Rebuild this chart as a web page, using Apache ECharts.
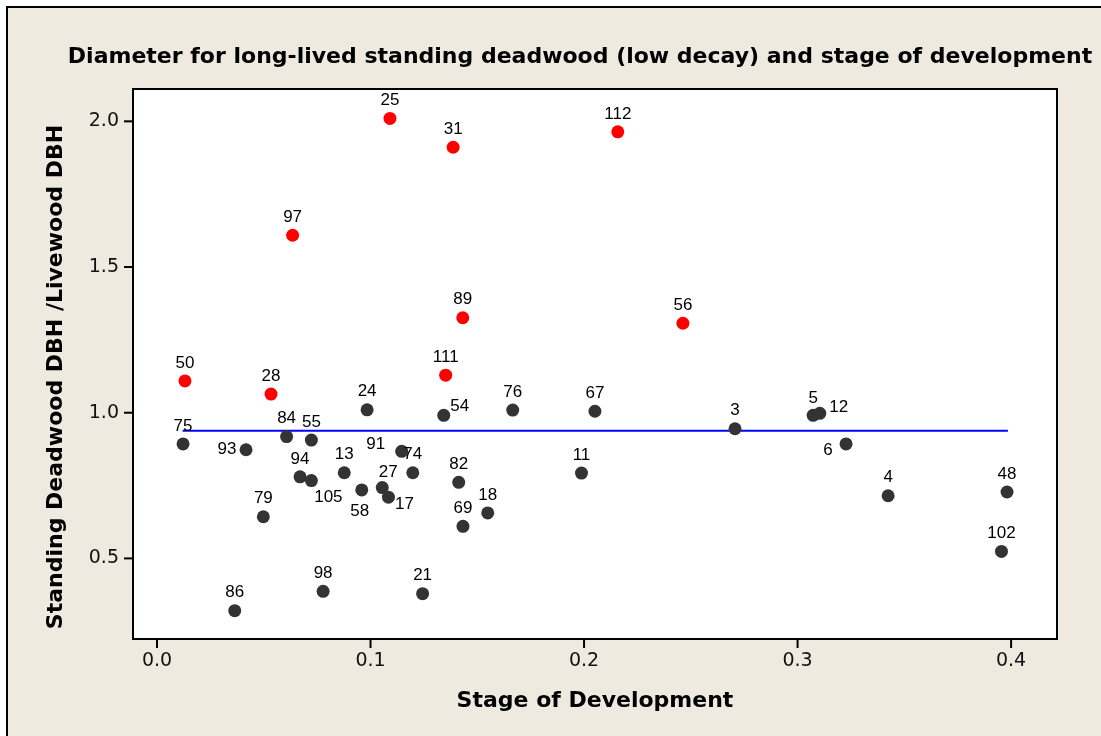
<!DOCTYPE html>
<html>
<head>
<meta charset="utf-8">
<script src="https://cdn.jsdelivr.net/npm/echarts@6/dist/echarts.min.js"></script>
<style>
html,body{margin:0;padding:0;background:#ffffff;overflow:hidden;}
#frame{position:absolute;left:6px;top:6px;width:1200px;height:900px;background:#EEEAE0;border:2px solid #000;}
#chart{position:absolute;left:0;top:0;width:1101px;height:736px;}
</style>
</head>
<body>
<div id="frame"></div>
<div id="chart"></div>
<script>
// ---- data ----
const pointIds = [50, 28, 111, 25, 31, 112, 97, 89, 56,
  24, 54, 76, 75, 93, 84, 55, 94, 105, 13, 91, 74, 27, 17, 58, 82, 69, 18, 79, 86, 98, 21,
  67, 11, 3, 5, 12, 6, 4, 48, 102];
const stage = [0.0131, 0.0534, 0.1352, 0.1091, 0.1387, 0.2158, 0.0635, 0.1432, 0.2463,
  0.0984, 0.1343, 0.1666, 0.0122, 0.0417, 0.0607, 0.0723, 0.0670, 0.0723, 0.0877, 0.1146, 0.1198, 0.1055, 0.1084, 0.0959, 0.1413, 0.1433, 0.1549, 0.0498, 0.0364, 0.0778, 0.1244,
  0.2051, 0.1988, 0.2707, 0.3073, 0.3104, 0.3227, 0.3424, 0.3981, 0.3955];
const ratio = [1.109, 1.064, 1.129, 2.010, 1.911, 1.964, 1.609, 1.326, 1.307,
  1.010, 0.991, 1.009, 0.893, 0.873, 0.918, 0.906, 0.780, 0.767, 0.794, 0.8675, 0.794, 0.743, 0.710, 0.735, 0.761, 0.610, 0.656, 0.643, 0.3205, 0.387, 0.379,
  1.005, 0.793, 0.945, 0.991, 0.998, 0.893, 0.715, 0.728, 0.524];
const redIds = [50, 28, 111, 25, 31, 112, 97, 89, 56];
const refLineX = [0.012, 0.3985];
const refLineY = [0.938, 0.938];
const xTicks = [0.0, 0.1, 0.2, 0.3, 0.4];
const yTicks = [0.5, 1.0, 1.5, 2.0];
const titleText = 'Diameter for long-lived standing deadwood (low decay) and stage of development';
const xName = 'Stage of Development';
const yName = 'Standing Deadwood DBH /Livewood DBH';

// ---- axis extents & label placement (style) ----
const X_MIN = -0.01124, X_MAX = 0.4215;
const Y_MIN = 0.2234, Y_MAX = 2.111;
const TICK_LEN = 9;
const defaultLabelOffset = [0, -18];
const labelOffsets = {
  93: [-19, 0], 91: [-26, -7], 54: [16, -9], 105: [17, 17], 58: [-2, 21],
  17: [16, 7], 12: [19, -6], 6: [-18, 6], 5: [0, -17], 27: [6, -15]
};

function buildData(isRed) {
  const out = [];
  for (let i = 0; i < pointIds.length; i++) {
    const id = pointIds[i];
    if ((redIds.indexOf(id) >= 0) !== isRed) continue;
    out.push({
      value: [stage[i], ratio[i]],
      name: String(id),
      label: { offset: labelOffsets[id] || defaultLabelOffset }
    });
  }
  return out;
}

const labelStyle = {
  show: true,
  position: 'inside',
  formatter: p => p.name,
  color: '#000',
  opacity: 1,
  fontSize: 17,
  fontFamily: "'Liberation Sans Narrow', 'Liberation Sans', Arial, sans-serif"
};

const boldFont = "'DejaVu Sans', Verdana, sans-serif";

function tickSeries(values, horizontal) {
  return {
    type: 'custom',
    silent: true,
    clip: false,
    z: 10,
    data: values.map(v => horizontal ? [v, Y_MIN] : [X_MIN, v]),
    encode: { x: 0, y: 1 },
    renderItem: function (params, api) {
      const p = api.coord([api.value(0), api.value(1)]);
      const shape = horizontal
        ? { x1: p[0], y1: p[1], x2: p[0], y2: p[1] + TICK_LEN }
        : { x1: p[0], y1: p[1], x2: p[0] - TICK_LEN, y2: p[1] };
      return { type: 'line', shape: shape, style: { stroke: '#000', lineWidth: 2 } };
    }
  };
}

const chart = echarts.init(document.getElementById('chart'), null, {renderer: 'canvas'});
chart.setOption({
  animation: false,
  backgroundColor: 'transparent',
  title: {
    text: titleText,
    left: 575,
    top: 41,
    textAlign: 'center',
    textStyle: {
      fontFamily: boldFont,
      fontWeight: 'bold',
      fontSize: 22,
      color: '#000'
    }
  },
  grid: {
    show: true,
    left: 133, top: 89, right: 44, bottom: 97,
    backgroundColor: '#ffffff',
    borderColor: '#000',
    borderWidth: 2
  },
  xAxis: {
    type: 'value',
    min: X_MIN,
    max: X_MAX,
    name: xName,
    nameLocation: 'middle',
    nameGap: 51,
    nameTextStyle: {
      fontFamily: boldFont,
      fontWeight: 'bold', fontSize: 22, color: '#000'
    },
    axisLine: { show: true, onZero: false, lineStyle: { color: '#000', width: 2 } },
    splitLine: { show: false },
    axisTick: { show: false },
    axisLabel: {
      customValues: xTicks,
      formatter: v => v.toFixed(1),
      margin: 13,
      fontFamily: boldFont,
      fontSize: 19, color: '#111'
    }
  },
  yAxis: {
    type: 'value',
    min: Y_MIN,
    max: Y_MAX,
    name: yName,
    nameLocation: 'middle',
    nameGap: 66,
    nameRotate: 90,
    nameTextStyle: {
      fontFamily: boldFont,
      fontWeight: 'bold', fontSize: 22, color: '#000',
      padding: [0, 26, 0, 0]
    },
    axisLine: { show: true, onZero: false, lineStyle: { color: '#000', width: 2 } },
    splitLine: { show: false },
    axisTick: { show: false },
    axisLabel: {
      customValues: yTicks,
      formatter: v => v.toFixed(1),
      margin: 14,
      fontFamily: boldFont,
      fontSize: 19, color: '#111'
    }
  },
  series: [
    tickSeries(xTicks, true),
    tickSeries(yTicks, false),
    {
      type: 'line',
      data: refLineX.map((x, i) => [x, refLineY[i]]),
      symbol: 'none',
      lineStyle: { color: '#0000FF', width: 2 },
      z: 1,
      silent: true
    },
    {
      type: 'scatter',
      data: buildData(false),
      symbol: 'circle',
      symbolSize: 13,
      itemStyle: { color: '#333333', opacity: 1 },
      label: labelStyle,
      z: 3
    },
    {
      type: 'scatter',
      data: buildData(true),
      symbol: 'circle',
      symbolSize: 13,
      itemStyle: { color: '#FF0000', opacity: 1 },
      label: labelStyle,
      z: 3
    }
  ]
});
</script>
</body>
</html>
